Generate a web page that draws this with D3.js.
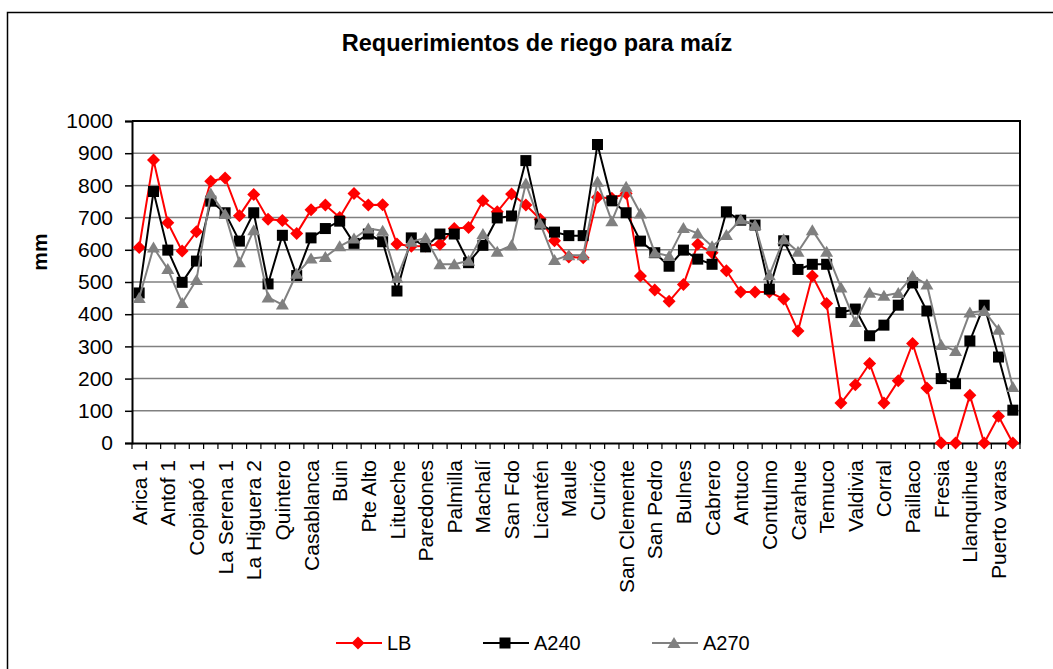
<!DOCTYPE html>
<html><head><meta charset="utf-8">
<script src="https://cdn.jsdelivr.net/npm/d3@7"></script>
<style>body{margin:0;background:#fff}svg{display:block}text{font-family:Arial,"Liberation Sans",sans-serif}</style>
</head><body><svg id="c" width="1053" height="669"></svg>
<script>
const categories = ["Arica 1","","Antof 1","","Copiapó 1","","La Serena 1","","La Higuera 2","","Quintero","","Casablanca","","Buin","","Pte Alto","","Litueche","","Paredones","","Palmilla","","Machalí","","San Fdo","","Licantén","","Maule","","Curicó","","San Clemente","","San Pedro","","Bulnes","","Cabrero","","Antuco","","Contulmo","","Carahue","","Temuco","","Valdivia","","Corral","","Paillaco","","Fresia","","Llanquihue","","Puerto varas",""];
const LB = [607,879,684,596,656,813,823,706,772,695,691,651,724,739,700,775,739,740,618,611,612,617,666,669,752,718,773,739,695,628,578,575,763,760,775,519,475,440,492,617,591,535,469,469,469,447,348,519,433,124,181,247,124,193,309,171,0,0,148,0,83,0];
const A240 = [466,781,599,499,565,751,715,627,715,494,645,520,637,666,689,620,649,625,472,637,609,649,649,560,614,699,705,877,680,655,644,644,927,752,715,627,591,549,599,571,555,718,692,677,478,628,539,555,555,405,416,333,366,428,497,410,200,184,317,428,267,102];
const A270 = [450,607,540,435,506,775,711,561,661,452,430,526,573,578,611,635,666,659,513,625,637,555,555,566,649,594,614,806,682,568,583,583,811,689,796,713,591,581,668,651,611,646,694,677,521,633,594,661,594,483,376,467,457,466,519,492,304,286,405,410,352,174];
const yTicks = [0,100,200,300,400,500,600,700,800,900,1000];
const seriesNames = ["LB","A240","A270"];

const svg = d3.select("#c");
const L = 132, R = 1020, T = 121, B = 443;
const x = d3.scaleBand().domain(d3.range(categories.length)).range([L, R]).padding(0);
const y = d3.scaleLinear().domain([0, 1000]).range([B, T]);

// outer frame
svg.append("rect").attr("x",7.5).attr("y",12.5).attr("width",1100).attr("height",700)
  .attr("fill","none").attr("stroke","#000").attr("stroke-width",1.5);

// title
svg.append("text").attr("x",537).attr("y",51).attr("text-anchor","middle")
  .attr("font-weight","bold").attr("font-size",23.5).text("Requerimientos de riego para maíz");

// gridlines
svg.append("g").selectAll("line").data(yTicks.filter(d=>d>0)).join("line")
  .attr("x1",L).attr("x2",R).attr("y1",d=>y(d)).attr("y2",d=>y(d))
  .attr("stroke","#808080").attr("stroke-width",1.5);

// plot frame top/right
svg.append("path").attr("d",`M${L},${T}H${R}V${B}`).attr("fill","none").attr("stroke","#000").attr("stroke-width",2);

// y axis
const yAxis = svg.append("g").attr("transform",`translate(${L},0)`)
  .call(d3.axisLeft(y).tickValues(yTicks).tickSize(7).tickPadding(12).tickFormat(d3.format("d")));
yAxis.select(".domain").attr("stroke","#000").attr("stroke-width",2);
yAxis.selectAll(".tick line").attr("stroke","#000").attr("stroke-width",1.5);
yAxis.selectAll("text").attr("font-size",21).attr("fill","#000").style("font-family","Arial, 'Liberation Sans', sans-serif");

// x axis
const xAxis = svg.append("g").attr("transform",`translate(0,${B})`)
  .call(d3.axisBottom(x).tickSize(0).tickFormat(i=>categories[i]));
xAxis.select(".domain").attr("stroke","#000").attr("stroke-width",2);
xAxis.selectAll("text").attr("font-size",21).attr("fill","#000")
  .style("font-family","Arial, 'Liberation Sans', sans-serif")
  .attr("text-anchor","end").attr("transform","rotate(-90)")
  .attr("x",-17).attr("y",0).attr("dy","0.36em");
// band boundary ticks
svg.append("g").selectAll("line").data(d3.range(categories.length+1)).join("line")
  .attr("x1",i=>L+i*x.bandwidth()).attr("x2",i=>L+i*x.bandwidth())
  .attr("y1",B).attr("y2",B+6).attr("stroke","#000").attr("stroke-width",1.2);

// y label
svg.append("text").attr("transform","translate(47,252) rotate(-90)").attr("text-anchor","middle")
  .attr("font-weight","bold").attr("font-size",21).text("mm");

const cx = i => x(i) + x.bandwidth()/2;
const series = [
  {name:seriesNames[0], values:LB, color:"#ff0000"},
  {name:seriesNames[1], values:A240, color:"#000000"},
  {name:seriesNames[2], values:A270, color:"#808080"}
];
function marker(g, s){
  if (s.name==="LB") {
    g.append("path").attr("d","M0,-6.5L6.5,0L0,6.5L-6.5,0Z").attr("fill",s.color);
  } else if (s.name==="A240") {
    g.append("rect").attr("x",-5.5).attr("y",-5.5).attr("width",11).attr("height",11).attr("fill",s.color);
  } else {
    g.append("path").attr("d","M0,-6L6.5,5L-6.5,5Z").attr("fill",s.color);
  }
}
const line = d3.line().x((d,i)=>cx(i)).y(d=>y(d));
series.forEach(s=>{
  svg.append("path").datum(s.values).attr("d",line).attr("fill","none")
    .attr("stroke",s.color).attr("stroke-width",2).attr("stroke-linejoin","round");
  const g = svg.append("g");
  s.values.forEach((v,i)=>{
    const m = g.append("g").attr("transform",`translate(${cx(i)},${y(v)})`);
    marker(m,s);
  });
});

// legend
const legX = [336, 483, 652];
series.forEach((s,k)=>{
  const g = svg.append("g").attr("transform",`translate(${legX[k]},643)`);
  g.append("line").attr("x1",0).attr("x2",46).attr("y1",0).attr("y2",0).attr("stroke",s.color).attr("stroke-width",2);
  const m = g.append("g").attr("transform","translate(22,0)");
  marker(m,s);
  g.append("text").attr("x",51).attr("y",0).attr("dy","0.36em").attr("font-size",20).text(s.name);
});
</script></body></html>
